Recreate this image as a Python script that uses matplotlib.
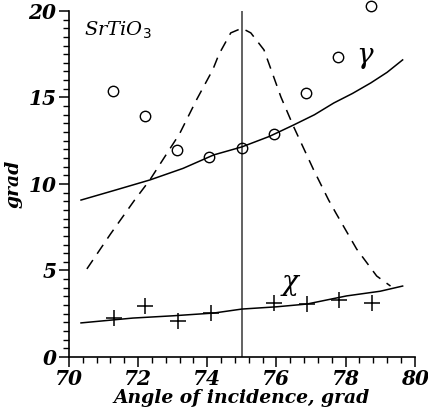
import matplotlib
matplotlib.use("Agg")
import matplotlib.pyplot as plt
from matplotlib.ticker import MultipleLocator

# measured points (circles = gamma, crosses = chi)
gamma_x = [71.27, 72.2, 73.12, 74.05, 75.0, 75.92, 76.85, 77.77, 78.73]
gamma_y = [15.38, 13.93, 11.97, 11.56, 12.08, 12.89, 15.26, 17.34, 20.29]
chi_x = [71.3, 72.2, 73.15, 74.1, 75.92, 76.88, 77.8, 78.75]
chi_y = [2.25, 2.95, 2.08, 2.54, 3.12, 3.06, 3.29, 3.12]

# fitted curves
gfit_x = [70.35, 71.3, 72.34, 73.3, 74.19, 75.0, 75.8, 76.5, 77.1, 77.66, 78.2, 78.73, 79.2, 79.65]
gfit_y = [9.07, 9.62, 10.23, 10.9, 11.68, 12.14, 12.75, 13.41, 14.0, 14.68, 15.23, 15.84, 16.45, 17.17]
cfit_x = [70.35, 71.85, 73.0, 74.19, 75.0, 76.0, 76.88, 78.03, 79.0, 79.65]
cfit_y = [1.97, 2.25, 2.38, 2.54, 2.77, 2.9, 3.06, 3.53, 3.8, 4.1]
dash_x = [70.52, 71.2, 71.9, 72.34, 73.2, 73.7, 74.16, 74.34, 74.68, 75.0, 75.26, 75.64,
          76.13, 76.5, 77.08, 77.51, 77.72, 78.32, 78.9, 79.3]
dash_y = [5.09, 7.1, 9.07, 10.23, 12.9, 14.9, 16.6, 17.5, 18.73, 19.0, 18.73, 17.75,
          15.03, 13.3, 10.8, 9.07, 8.32, 6.24, 4.68, 4.1]

lab_font = dict(family="DejaVu Serif", style="italic", weight="bold", size=13.5)

fig = plt.figure(figsize=(4.28, 4.12), dpi=100)
ax = fig.add_axes([0.161, 0.1335, 0.808, 0.84])

ax.axvline(75, color="#555555", lw=1.3)
ax.plot(gfit_x, gfit_y, color="black", lw=1.1)
ax.plot(cfit_x, cfit_y, color="black", lw=1.1)
ax.plot(dash_x, dash_y, color="black", lw=1.1, dashes=(7, 5))
ax.plot(gamma_x, gamma_y, "o", ms=7.5, mfc="none", mec="black", mew=1.0, clip_on=False)
ax.plot(chi_x, chi_y, "+", ms=12, mec="black", mew=1.1, clip_on=False)

ax.text(70.45, 18.9, r"SrTiO$_3$", fontsize=14, family="DejaVu Serif", style="italic",
        va="center", ha="left")
ax.text(78.55, 17.4, "γ", fontsize=20, family="DejaVu Serif", style="italic",
        va="center", ha="center")
ax.text(76.4, 4.3, "χ", fontsize=20, family="DejaVu Serif", style="italic",
        va="center", ha="center")

ax.set_xlim(70, 80)
ax.set_ylim(0, 20)
ax.xaxis.set_major_locator(MultipleLocator(2))
ax.xaxis.set_minor_locator(MultipleLocator(0.4))
ax.yaxis.set_major_locator(MultipleLocator(5))
ax.yaxis.set_minor_locator(MultipleLocator(0.5))
ax.tick_params(which="major", length=7, width=1.1, direction="out", pad=2)
ax.tick_params(which="minor", length=4, width=1.0, direction="out")
for lbl in ax.get_xticklabels() + ax.get_yticklabels():
    lbl.set_fontfamily("DejaVu Serif")
    lbl.set_style("italic")
    lbl.set_fontweight("bold")
    lbl.set_fontsize(14.5)

for side in ("top", "right"):
    ax.spines[side].set_visible(False)
for side in ("left", "bottom"):
    ax.spines[side].set_linewidth(1.2)

ax.set_xlabel("Angle of incidence, grad", labelpad=0, **lab_font)
ax.set_ylabel("grad", labelpad=4, **lab_font)

fig.savefig("out.png", dpi=100)
